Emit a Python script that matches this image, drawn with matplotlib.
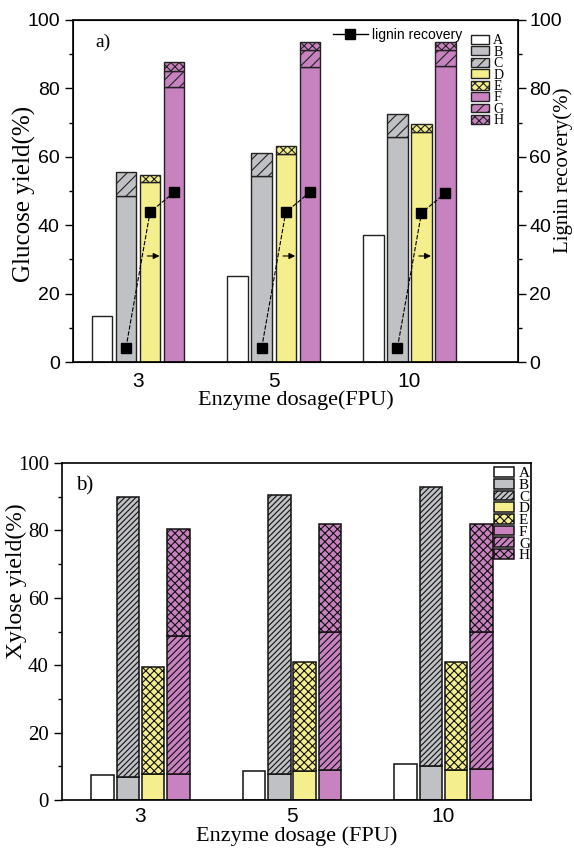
import numpy as np
import matplotlib
matplotlib.use('Agg')
from matplotlib import pyplot as plt
from matplotlib.lines import Line2D

plt.rcParams['hatch.linewidth'] = 0.8
SERIF = 'Liberation Serif'
SANS = 'Liberation Sans'

doses = ['3', '5', '10']

# a) glucose yield (%), stacked segments
glu_A = [13.6, 25.1, 37.1]
glu_B = [48.6, 54.3, 65.8]
glu_C = [7.1, 6.8, 6.6]
glu_D = [52.5, 60.9, 67.3]
glu_E = [2.3, 2.2, 2.2]
glu_F = [80.3, 86.4, 86.6]
glu_G = [4.8, 4.9, 4.7]
glu_H = [2.5, 2.2, 2.2]
# lignin recovery (%), at bars B, D, F of each dosage
lig_3 = [4.2, 43.8, 49.6]
lig_5 = [4.2, 43.8, 49.6]
lig_10 = [4.2, 43.6, 49.4]
arrow_level = 31

# b) xylose yield (%), stacked segments
xyl_A = [7.3, 8.6, 10.7]
xyl_B = [6.8, 7.7, 10.1]
xyl_C = [83.0, 82.9, 82.7]
xyl_D = [7.6, 8.7, 9.0]
xyl_E = [32.0, 32.2, 32.0]
xyl_F = [7.7, 9.0, 9.1]
xyl_G = [41.0, 40.9, 40.8]
xyl_H = [31.7, 31.9, 31.9]

grey = '#c0c1c5'
yellow = '#f4ee8c'
pink = '#c882c0'

fig = plt.figure(figsize=(5.74, 8.51), dpi=100)
x = np.arange(len(doses))

# ---------------- panel a ----------------
ax1 = fig.add_axes([0.1272, 0.5746, 0.7753, 0.4019])
w, p = 0.151, 0.177
ec = '#222222'
kw = dict(width=w, edgecolor=ec, linewidth=1.0)
hA = ax1.bar(x - 1.5 * p, glu_A, color='white', **kw)
hB = ax1.bar(x - 0.5 * p, glu_B, color=grey, **kw)
hC = ax1.bar(x - 0.5 * p, glu_C, bottom=glu_B, color=grey, hatch='///', **kw)
hD = ax1.bar(x + 0.5 * p, glu_D, color=yellow, **kw)
hE = ax1.bar(x + 0.5 * p, glu_E, bottom=glu_D, color=yellow, hatch='xxxx', **kw)
hF = ax1.bar(x + 1.5 * p, glu_F, color=pink, **kw)
hG = ax1.bar(x + 1.5 * p, glu_G, bottom=glu_F, color=pink, hatch='///', **kw)
hH = ax1.bar(x + 1.5 * p, glu_H, bottom=np.add(glu_F, glu_G), color=pink,
             hatch='xxxx', **kw)
ax1.set_xlim(-0.479, 2.80)
ax1.set_ylim(0, 100)
ax1.set_yticks(range(0, 101, 20))
ax1.set_yticks(range(10, 100, 20), minor=True)
ax1.set_xticks(x)
ax1.set_xticklabels(doses, fontfamily=SANS, fontsize=15)
ax1.tick_params(axis='x', length=0, pad=7)
ax1.tick_params(axis='y', which='major', length=6, width=1, labelsize=14)
ax1.tick_params(axis='y', which='minor', length=3, width=1)
for t in ax1.get_yticklabels():
    t.set_fontfamily(SANS)
ax1.set_ylabel('Glucose yield(%)', fontfamily=SERIF, fontsize=18)
ax1.yaxis.set_label_coords(-0.083, 0.49)
ax1.set_xlabel('Enzyme dosage(FPU)', fontfamily=SERIF, fontsize=16, labelpad=0)
ax1.text(0.05, 0.92, 'a)', transform=ax1.transAxes, fontfamily=SERIF, fontsize=14)
for s in ax1.spines.values():
    s.set_linewidth(1.2)

ax2 = ax1.twinx()
lig = [lig_3, lig_5, lig_10]
pos = np.array([-0.5 * p, 0.5 * p, 1.5 * p])
for i, vals in enumerate(lig):
    ax2.plot(x[i] + pos, vals, color='k', lw=0.8, ls=(0, (4, 1.5)),
             marker='s', ms=6.5, mfc='k', mec='k')
    ax2.annotate('', xy=(x[i] + 0.5 * p + 0.09, arrow_level),
                 xytext=(x[i] + 0.5 * p - 0.04, arrow_level),
                 arrowprops=dict(arrowstyle='-|>', color='k', lw=0.8,
                                 mutation_scale=9))
ax2.set_ylim(0, 100)
ax2.set_yticks(range(0, 101, 20))
ax2.set_yticks(range(10, 100, 20), minor=True)
ax2.tick_params(axis='y', which='major', length=6, width=1, labelsize=14, pad=2)
ax2.tick_params(axis='y', which='minor', length=3, width=1)
for t in ax2.get_yticklabels():
    t.set_fontfamily(SANS)
ax2.set_ylabel('Lignin recovery(%)', fontfamily=SERIF, fontsize=15)
ax2.yaxis.set_label_coords(1.079, 0.56)
lig_handle = Line2D([], [], color='k', lw=1.0, marker='s', ms=6.5)
ax2.legend(handles=[lig_handle], labels=['lignin recovery'], loc='upper left',
           bbox_to_anchor=(0.565, 1.0), frameon=False, handlelength=2.5,
           handletextpad=0.3, prop=dict(family=SANS, size=10),
           borderaxespad=0.2)

leg1 = ax1.legend([hA, hB, hC, hD, hE, hF, hG, hH],
                  list('ABCDEFGH'), loc='upper left',
                  bbox_to_anchor=(0.882, 0.975), frameon=False,
                  prop=dict(family=SERIF, size=10), labelspacing=-0.11,
                  handlelength=1.3, handleheight=0.6, handletextpad=0.3,
                  borderaxespad=0)

# ---------------- panel b ----------------
ax3 = fig.add_axes([0.1080, 0.0599, 0.8171, 0.3960])
w, p = 0.149, 0.167
ec = '#111111'
kw = dict(width=w, edgecolor=ec, linewidth=1.1)
bA = ax3.bar(x - 1.5 * p, xyl_A, color='white', **kw)
bB = ax3.bar(x - 0.5 * p, xyl_B, color=grey, **kw)
bC = ax3.bar(x - 0.5 * p, xyl_C, bottom=xyl_B, color=grey, hatch='//////', **kw)
bD = ax3.bar(x + 0.5 * p, xyl_D, color=yellow, **kw)
bE = ax3.bar(x + 0.5 * p, xyl_E, bottom=xyl_D, color=yellow, hatch='xxxx', **kw)
bF = ax3.bar(x + 1.5 * p, xyl_F, color=pink, **kw)
bG = ax3.bar(x + 1.5 * p, xyl_G, bottom=xyl_F, color=pink, hatch='/////', **kw)
bH = ax3.bar(x + 1.5 * p, xyl_H, bottom=np.add(xyl_F, xyl_G), color=pink,
             hatch='xxxx', **kw)
ax3.set_xlim(-0.518, 2.578)
ax3.set_ylim(0, 100)
ax3.set_yticks(range(0, 101, 20))
ax3.set_yticks(range(10, 100, 20), minor=True)
ax3.set_xticks(x)
ax3.set_xticklabels(doses, fontfamily=SANS, fontsize=15)
ax3.tick_params(axis='x', length=0, pad=5)
ax3.tick_params(axis='y', which='major', length=6, width=1, labelsize=15)
ax3.tick_params(axis='y', which='minor', length=3, width=1)
for t in ax3.get_yticklabels():
    t.set_fontfamily(SERIF)
ax3.set_ylabel('Xylose yield(%)', fontfamily=SERIF, fontsize=17)
ax3.yaxis.set_label_coords(-0.074, 0.65)
ax3.set_xlabel('Enzyme dosage (FPU)', fontfamily=SERIF, fontsize=16, labelpad=0)
ax3.text(0.03, 0.92, 'b)', transform=ax3.transAxes, fontfamily=SERIF, fontsize=15)
for s in ax3.spines.values():
    s.set_linewidth(1.2)
ax3.legend([bA, bB, bC, bD, bE, bF, bG, bH], list('ABCDEFGH'),
           loc='upper left', bbox_to_anchor=(0.909, 1.006), frameon=False,
           prop=dict(family=SERIF, size=11), labelspacing=-0.1,
           handlelength=1.3, handleheight=0.6, handletextpad=0.3,
           borderaxespad=0)

fig.savefig('out.png', dpi=100)
